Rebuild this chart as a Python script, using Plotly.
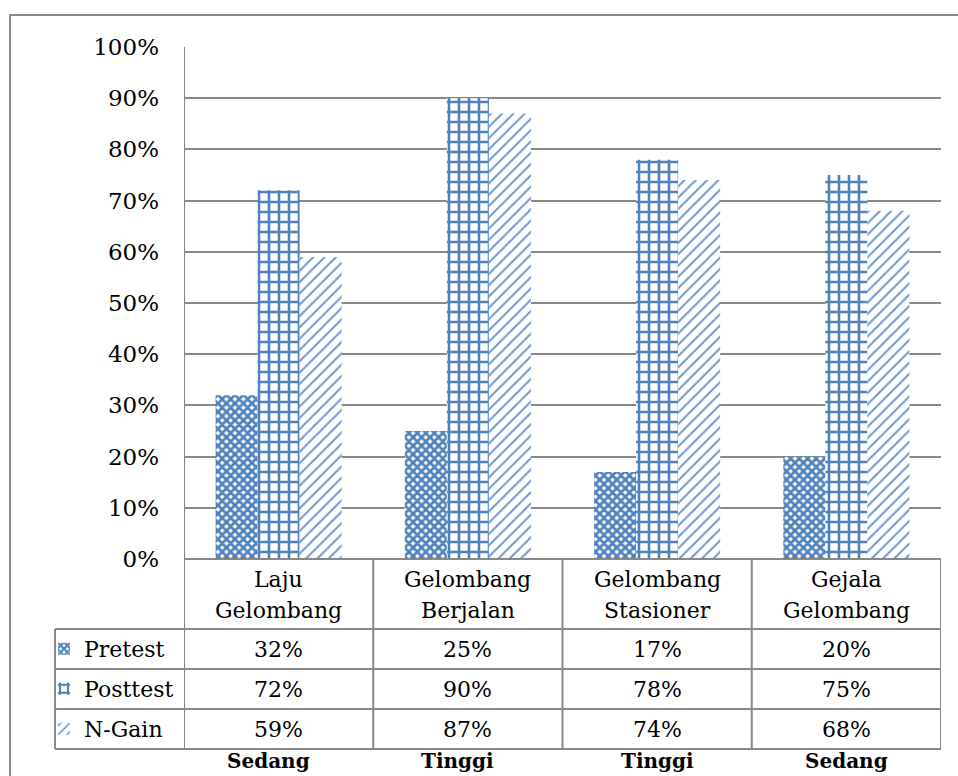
import plotly.graph_objects as go

categories = ["Laju Gelombang", "Gelombang Berjalan", "Gelombang Stasioner", "Gejala Gelombang"]
pretest = [0.32, 0.25, 0.17, 0.20]
posttest = [0.72, 0.90, 0.78, 0.75]
ngain = [0.59, 0.87, 0.74, 0.68]
series_names = ["Pretest", "Posttest", "N-Gain"]
criteria = ["Sedang", "Tinggi", "Tinggi", "Sedang"]
y_ticks = [i / 10 for i in range(11)]

BLUE = "#4F81BD"
GRID = "#888888"
FONT = "DejaVu Serif"
FS = 22

# pixel geometry helpers (plot area 184..941 x 47..559)
L, R, T, B = 184, 941, 47, 559
W, H = 958, 776
PH = B - T
def py(y):
    return (B - y) / PH
def px(x):
    return (x - L) / (R - L)

patterns = [
    dict(shape="x", fgcolor=BLUE, bgcolor="white", size=6, solidity=0.7, fillmode="replace"),
    dict(shape="+", fgcolor=BLUE, bgcolor="white", size=10, solidity=0.45, fillmode="replace"),
    dict(shape="/", fgcolor="#6F97CC", bgcolor="white", size=8, solidity=0.25, fillmode="replace"),
]
series = [pretest, posttest, ngain]
legends = ["legend", "legend2", "legend3"]

fig = go.Figure()
for name, vals, pat, lg in zip(series_names, series, patterns, legends):
    fig.add_trace(go.Bar(
        x=categories, y=vals, name=name,
        marker=dict(color="white", pattern=pat, line=dict(width=0)),
        legend=lg, showlegend=True,
    ))

row_y = [py(649), py(689), py(729)]
leg_common = dict(
    xanchor="left", yanchor="middle", bgcolor="rgba(0,0,0,0)", borderwidth=0,
    font=dict(family=FONT, size=FS, color="black"), itemclick=False, itemdoubleclick=False,
)
layout_legends = {}
for lg, ry in zip(legends, row_y):
    layout_legends[lg] = dict(x=px(44), y=ry, **leg_common)

annotations = []
# header labels (two lines each)
for c in categories:
    words = c.split(" ")
    for word, yy in zip(words, [579, 610]):
        annotations.append(dict(x=c, xref="x", y=py(yy), yref="paper", text=word,
                                showarrow=False, font=dict(family=FONT, size=FS, color="black"),
                                xanchor="center", yanchor="middle"))
# values
for vals, ry in zip(series, row_y):
    for c, v in zip(categories, vals):
        annotations.append(dict(x=c, xref="x", y=ry, yref="paper", text=f"{round(v*100)}%",
                                showarrow=False, font=dict(family=FONT, size=FS, color="black"),
                                xanchor="center", yanchor="middle"))
# criteria below table
shifts = [-10, -10, 0, 0]
for c, crit, s in zip(categories, criteria, shifts):
    annotations.append(dict(x=c, xref="x", y=py(761), yref="paper", text=f"<b>{crit}</b>",
                            showarrow=False, xshift=s,
                            font=dict(family=FONT, size=20, color="black"),
                            xanchor="center", yanchor="middle"))

shapes = []
line = dict(color=GRID, width=2)
# vertical table lines
shapes.append(dict(type="line", xref="x", yref="paper", x0=-0.5, x1=-0.5, y0=1, y1=py(749), line=line))
for i in range(len(categories)):
    shapes.append(dict(type="line", xref="x", yref="paper", x0=i + 0.5, x1=i + 0.5, y0=0, y1=py(749), line=line))
shapes.append(dict(type="line", xref="paper", yref="paper", x0=px(55), x1=px(55), y0=py(629), y1=py(749), line=line))
# horizontal table lines
shapes.append(dict(type="line", xref="x", yref="paper", x0=-0.5, x1=3.5, y0=0, y1=0, line=line))
for yy in [629, 669, 709, 749]:
    shapes.append(dict(type="line", xref="paper", yref="paper", x0=px(55), x1=1, y0=py(yy), y1=py(yy), line=line))
# outer border
shapes.append(dict(type="rect", xref="paper", yref="paper", x0=px(10), x1=px(975), y0=py(15), y1=py(800),
                   line=dict(color=GRID, width=2), layer="below"))

fig.update_layout(
    width=W, height=H,
    margin=dict(l=L, r=W - R, t=T, b=H - B, pad=0),
    paper_bgcolor="white", plot_bgcolor="white",
    barmode="group", bargap=0.334, bargroupgap=0,
    font=dict(family=FONT, size=FS, color="black"),
    xaxis=dict(type="category", range=[-0.5, 3.5], showticklabels=False, showgrid=False,
               zeroline=False, showline=False, ticks=""),
    yaxis=dict(range=[0, 1], tickvals=y_ticks, tickformat=".0%", showgrid=True,
               gridcolor=GRID, gridwidth=2, zeroline=False, showline=False, ticks="",
               ticklabelstandoff=24, tickfont=dict(family=FONT, size=23, color="black")),
    annotations=annotations, shapes=shapes,
    **layout_legends,
)

fig.write_html("out.html")
